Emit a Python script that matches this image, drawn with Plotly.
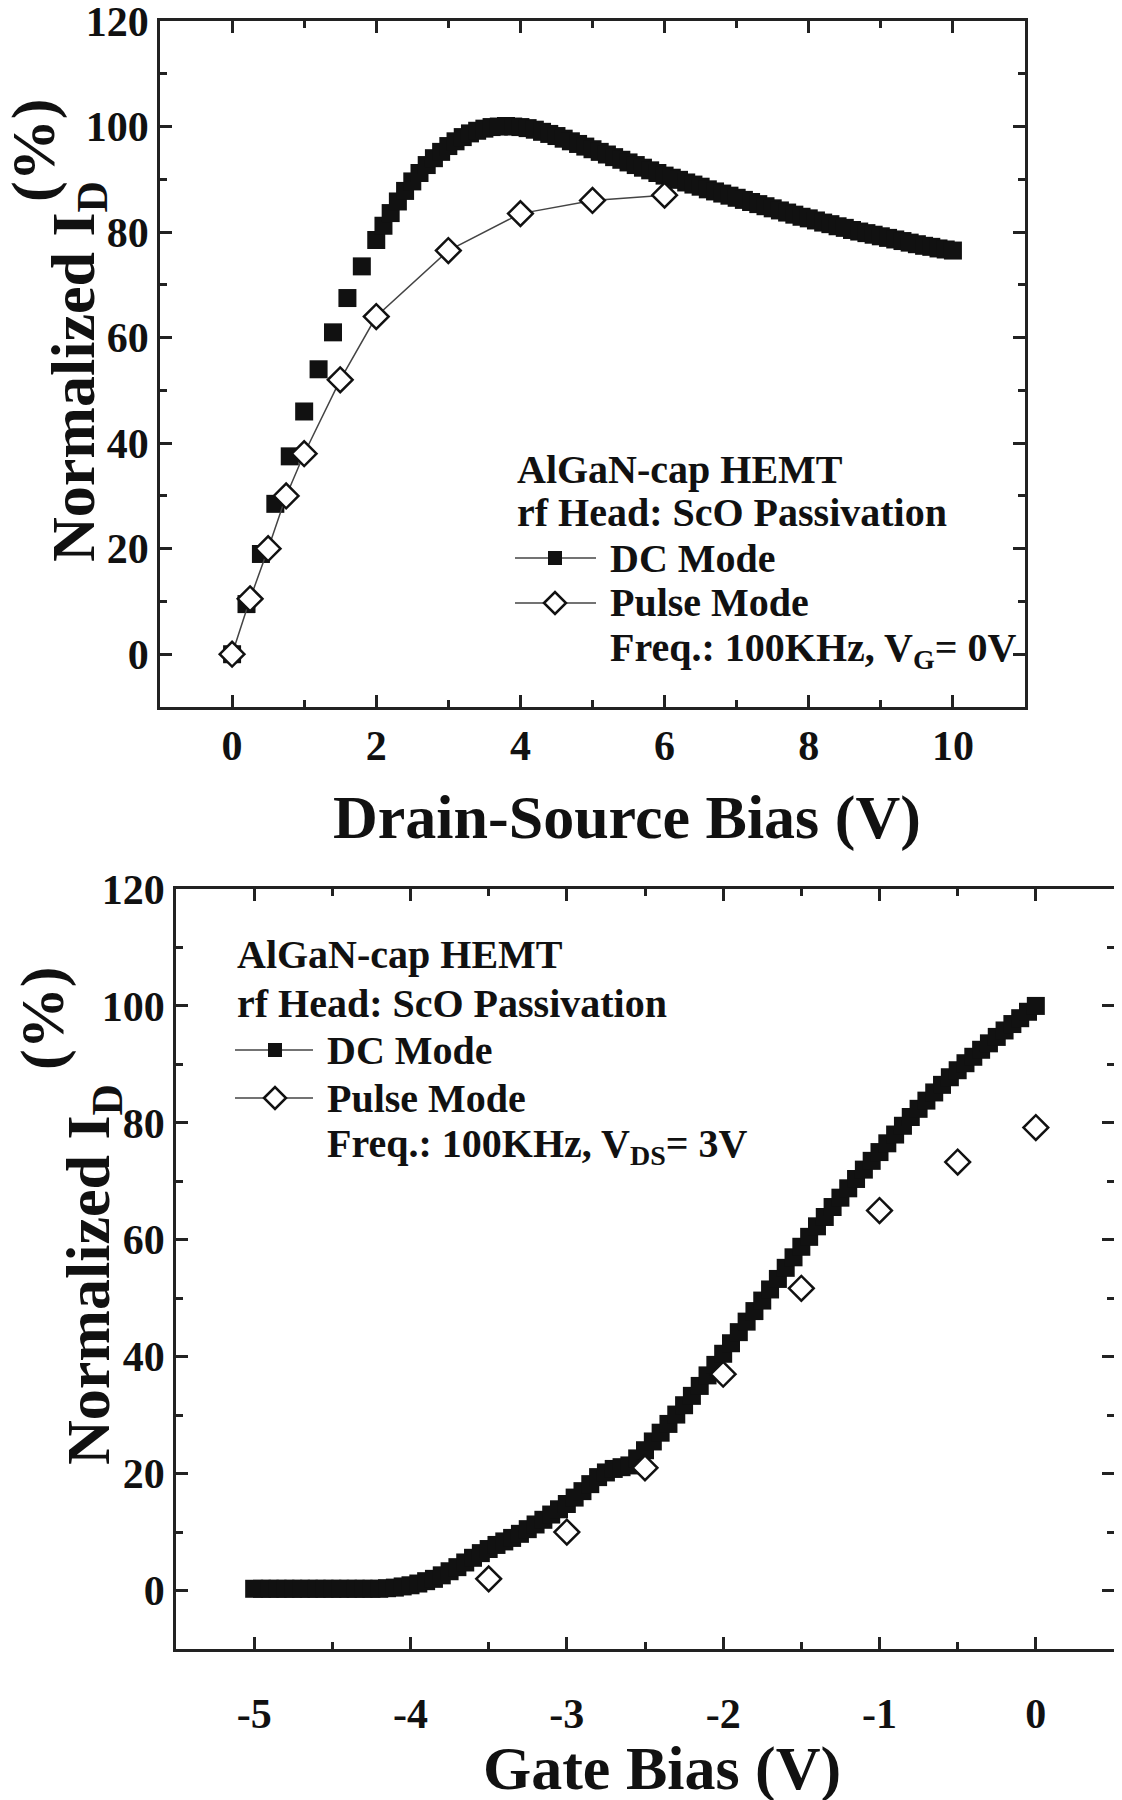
import plotly.graph_objects as go

# ---- data: top panel (drain-source sweep, V_G = 0 V) ----
vds_dc = [0.0, 0.2, 0.4, 0.6, 0.8, 1.0, 1.2, 1.4, 1.6, 1.8,
          2.0, 2.1, 2.2, 2.3, 2.4, 2.5, 2.6, 2.7, 2.8, 2.9,
          3.0, 3.1, 3.2, 3.3, 3.4, 3.5, 3.6, 3.7, 3.8, 3.9,
          4.0, 4.1, 4.2, 4.3, 4.4, 4.5, 4.6, 4.7, 4.8, 4.9,
          5.0, 5.1, 5.2, 5.3, 5.4, 5.5, 5.6, 5.7, 5.8, 5.9,
          6.0, 6.1, 6.2, 6.3, 6.4, 6.5, 6.6, 6.7, 6.8, 6.9,
          7.0, 7.1, 7.2, 7.3, 7.4, 7.5, 7.6, 7.7, 7.8, 7.9,
          8.0, 8.1, 8.2, 8.3, 8.4, 8.5, 8.6, 8.7, 8.8, 8.9,
          9.0, 9.1, 9.2, 9.3, 9.4, 9.5, 9.6, 9.7, 9.8, 9.9, 10.0]
ids_dc = [0.0, 9.5, 19.0, 28.5, 37.5, 46.0, 54.0, 61.0, 67.5, 73.5,
          78.5, 81.2, 83.6, 85.8, 87.8, 89.6, 91.2, 92.7, 94.0, 95.2,
          96.3, 97.2, 98.0, 98.7, 99.2, 99.6, 99.9, 100.0, 100.1, 100.0,
          99.9, 99.7, 99.4, 99.0, 98.6, 98.2, 97.7, 97.2, 96.7, 96.2,
          95.7, 95.2, 94.7, 94.2, 93.7, 93.2, 92.7, 92.2, 91.7, 91.2,
          90.7, 90.3, 89.9, 89.4, 89.0, 88.6, 88.1, 87.7, 87.3, 86.9,
          86.5, 86.1, 85.7, 85.3, 84.9, 84.5, 84.1, 83.7, 83.3, 82.9,
          82.6, 82.2, 81.8, 81.5, 81.1, 80.8, 80.4, 80.1, 79.8, 79.5,
          79.2, 78.9, 78.6, 78.3, 78.0, 77.7, 77.4, 77.2, 76.9, 76.7, 76.5]
vds_pulse = [0, 0.25, 0.5, 0.75, 1.0, 1.5, 2, 3, 4, 5, 6]
ids_pulse = [0, 10.5, 20, 30, 38, 52, 64, 76.5, 83.5, 86, 87]

# ---- data: bottom panel (gate sweep, V_DS = 3 V) ----
vg_dc = [-5.00, -4.95, -4.90, -4.85, -4.80, -4.75, -4.70, -4.65, -4.60, -4.55,
         -4.50, -4.45, -4.40, -4.35, -4.30, -4.25, -4.20, -4.15, -4.10, -4.05,
         -4.00, -3.95, -3.90, -3.85, -3.80, -3.75, -3.70, -3.65, -3.60, -3.55,
         -3.50, -3.45, -3.40, -3.35, -3.30, -3.25, -3.20, -3.15, -3.10, -3.05,
         -3.00, -2.95, -2.90, -2.85, -2.80, -2.75, -2.70, -2.65, -2.60, -2.55,
         -2.50, -2.45, -2.40, -2.35, -2.30, -2.25, -2.20, -2.15, -2.10, -2.05,
         -2.00, -1.95, -1.90, -1.85, -1.80, -1.75, -1.70, -1.65, -1.60, -1.55,
         -1.50, -1.45, -1.40, -1.35, -1.30, -1.25, -1.20, -1.15, -1.10, -1.05,
         -1.00, -0.95, -0.90, -0.85, -0.80, -0.75, -0.70, -0.65, -0.60, -0.55,
         -0.50, -0.45, -0.40, -0.35, -0.30, -0.25, -0.20, -0.15, -0.10, -0.05, 0.00]
ig_dc = [0.3, 0.3, 0.3, 0.3, 0.3, 0.3, 0.3, 0.3, 0.3, 0.3,
         0.3, 0.3, 0.3, 0.3, 0.3, 0.3, 0.3, 0.4, 0.5, 0.7,
         0.9, 1.2, 1.6, 2.0, 2.6, 3.3, 4.0, 4.8, 5.6, 6.4,
         7.1, 7.8, 8.4, 9.0, 9.7, 10.5, 11.3, 12.1, 13.0, 13.9,
         14.8, 15.9, 17.0, 18.2, 19.4, 20.2, 20.8, 21.1, 21.4, 22.6,
         24.0, 25.5, 27.0, 28.5, 30.1, 31.7, 33.3, 35.0, 36.8, 38.6,
         40.5, 42.3, 44.2, 46.0, 47.8, 49.6, 51.5, 53.3, 55.2, 57.0,
         58.8, 60.5, 62.3, 63.9, 65.6, 67.2, 68.8, 70.4, 72.0, 73.5,
         75.0, 76.5, 78.0, 79.5, 81.0, 82.4, 83.8, 85.2, 86.5, 87.8,
         89.0, 90.2, 91.3, 92.5, 93.6, 94.7, 95.8, 96.9, 97.9, 99.0, 100.0]
vg_pulse = [-3.5, -3.0, -2.5, -2.0, -1.5, -1.0, -0.5, 0.0]
ig_pulse = [2.0, 10.0, 21.0, 37.0, 51.7, 65.0, 73.3, 79.2]

# gate-bias tick labels use a plain hyphen, as in the original figure
vg_ticks = [-5, -4, -3, -2, -1, 0]
vg_ticktext = ["-5", "-4", "-3", "-2", "-1", "0"]

W, H = 1122, 1800
PAGE_OFFSET = 8  # default body margin of the html page
SERIF = "Liberation Serif, Times New Roman, serif"
INK = "#111111"
AXIS = "#222222"


def px(x):
    """Page pixel x -> paper fraction."""
    return (x - PAGE_OFFSET) / W


def py(y):
    """Page pixel y (from top) -> paper fraction."""
    return 1 - (y - PAGE_OFFSET) / H


fig = go.Figure()

# top panel
fig.add_scatter(x=vds_dc, y=ids_dc, mode="markers", xaxis="x", yaxis="y",
                marker=dict(symbol="square", size=18, color=INK, line=dict(width=0)),
                showlegend=False)
fig.add_scatter(x=vds_pulse, y=ids_pulse, mode="lines+markers", xaxis="x", yaxis="y",
                line=dict(color="#444444", width=1.5),
                marker=dict(symbol="diamond", size=19, color="white",
                            line=dict(color=INK, width=2.5)),
                showlegend=False)

# bottom panel
fig.add_scatter(x=vg_dc, y=ig_dc, mode="markers", xaxis="x2", yaxis="y2",
                marker=dict(symbol="square", size=18, color=INK, line=dict(width=0)),
                showlegend=False)
fig.add_scatter(x=vg_pulse, y=ig_pulse, mode="markers", xaxis="x2", yaxis="y2",
                marker=dict(symbol="diamond", size=19, color="white",
                            line=dict(color=INK, width=2.5)),
                showlegend=False)

tick_font = dict(family=SERIF, size=42, color=INK, weight="bold")
axis_common = dict(
    showline=True, linecolor=AXIS, linewidth=2.5, mirror="ticks",
    ticks="inside", ticklen=12, tickwidth=2.5, tickcolor=AXIS,
    showgrid=False, zeroline=False, tickfont=tick_font, automargin=False,
    ticklabeloverflow="allow",
)


def minor(step):
    return dict(dtick=step, ticks="inside", ticklen=7, tickwidth=2.5, tickcolor=AXIS)


fig.update_layout(
    width=W, height=H, autosize=False,
    margin=dict(l=0, r=0, t=0, b=0, autoexpand=False),
    paper_bgcolor="white", plot_bgcolor="white",
    xaxis=dict(domain=[px(160), px(1025)], anchor="y", range=[-1, 11], dtick=2,
               minor=minor(1), **axis_common),
    yaxis=dict(domain=[py(707), py(21)], anchor="x", range=[-10, 120], dtick=20,
               minor=minor(10), **axis_common),
    xaxis2=dict(domain=[px(176), px(1114)], anchor="y2", range=[-5.5, 0.5],
                tickmode="array", tickvals=vg_ticks, ticktext=vg_ticktext,
                ticklabelstandoff=26, minor=minor(0.5), **axis_common),
    yaxis2=dict(domain=[py(1649), py(889)], anchor="x2", range=[-10, 120], dtick=20,
                minor=minor(10), **axis_common),
)

title_font = dict(family=SERIF, size=62, color=INK, weight="bold")
text_font = dict(family=SERIF, size=40, color=INK, weight="bold")

annotations = [
    # axis titles
    dict(x=px(627), y=py(818), text="Drain-Source Bias (V)", font=title_font),
    dict(x=px(662), y=py(1768), text="Gate Bias (V)", font=title_font),
    dict(x=px(78), y=py(372), text="Normalized I<sub>D</sub>", textangle=-90, font=title_font),
    dict(x=px(34), y=py(151), text="(%)", textangle=-90, font=title_font),
    dict(x=px(92), y=py(1275), text="Normalized I<sub>D</sub>", textangle=-90, font=title_font),
    dict(x=px(42), y=py(1019), text="(%)", textangle=-90, font=title_font),
]

# in-plot legend blocks
legend_blocks = [
    # (left x, symbol centre x, entry text x, row y positions, freq text)
    (515, 555, 608, [469, 512, 558, 603, 650], "Freq.: 100KHz, V<sub>G</sub>= 0V"),
    (235, 275, 325, [954, 1003, 1050, 1098, 1146], "Freq.: 100KHz, V<sub>DS</sub>= 3V"),
]

shapes = []
for left, sym_x, text_x, rows, freq in legend_blocks:
    annotations.append(dict(x=px(left), y=py(rows[0]), text="AlGaN-cap HEMT",
                            xanchor="left", font=text_font))
    annotations.append(dict(x=px(left), y=py(rows[1]), text="rf Head: ScO Passivation",
                            xanchor="left", font=text_font))
    annotations.append(dict(x=px(text_x), y=py(rows[2]), text="DC Mode",
                            xanchor="left", font=text_font))
    annotations.append(dict(x=px(text_x), y=py(rows[3]), text="Pulse Mode",
                            xanchor="left", font=text_font))
    annotations.append(dict(x=px(text_x), y=py(rows[4]), text=freq,
                            xanchor="left", font=text_font))
    for yy in (rows[2], rows[3]):
        shapes.append(dict(type="line", xref="paper", yref="paper",
                           x0=px(left), x1=px(text_x - 12), y0=py(yy), y1=py(yy),
                           line=dict(color="#444444", width=1.5)))
    s = 7
    shapes.append(dict(type="rect", xref="paper", yref="paper",
                       x0=px(sym_x - s), x1=px(sym_x + s), y0=py(rows[2] + s), y1=py(rows[2] - s),
                       fillcolor=INK, line=dict(width=0)))
    d = 11
    yy = rows[3]
    path = (f"M {px(sym_x - d)} {py(yy)} L {px(sym_x)} {py(yy - d)} "
            f"L {px(sym_x + d)} {py(yy)} L {px(sym_x)} {py(yy + d)} Z")
    shapes.append(dict(type="path", xref="paper", yref="paper", path=path,
                       fillcolor="white", line=dict(color=INK, width=2.5)))

for a in annotations:
    a.setdefault("xref", "paper")
    a.setdefault("yref", "paper")
    a.setdefault("showarrow", False)
    a.setdefault("xanchor", "center")
    a.setdefault("yanchor", "middle")

fig.update_layout(annotations=annotations, shapes=shapes)

fig.write_html("out.html")
